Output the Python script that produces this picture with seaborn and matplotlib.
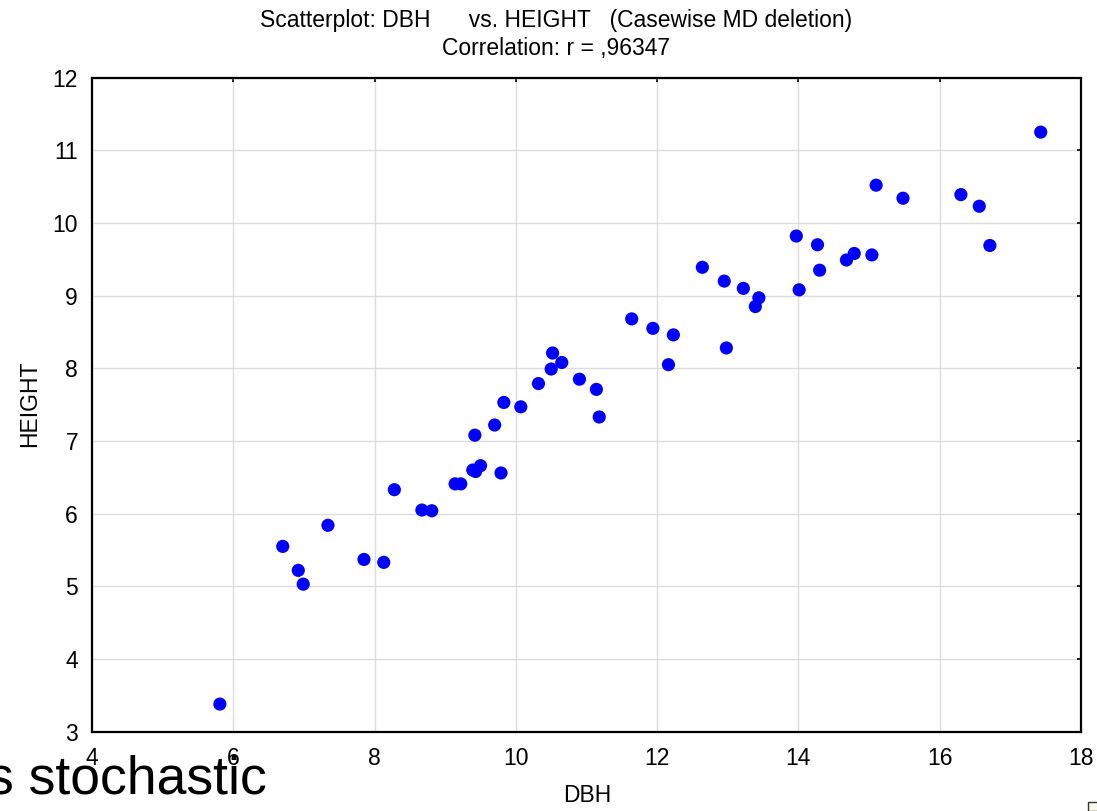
import matplotlib
matplotlib.use("Agg")
import matplotlib.pyplot as plt
import seaborn as sns
import pandas as pd
from matplotlib.patches import Rectangle

dbh = [5.81, 6.70, 6.92, 6.99, 7.34, 7.85, 8.13, 8.28, 8.67, 8.81,
       9.14, 9.22, 9.39, 9.43, 9.50, 9.79, 9.42, 9.70, 9.83, 10.07,
       10.32, 10.50, 10.52, 10.65, 10.90, 11.14, 11.18, 11.64, 11.94, 12.23,
       12.16, 12.64, 12.95, 13.22, 13.44, 13.39, 12.98, 14.01, 13.97, 14.27,
       14.30, 14.68, 14.79, 15.04, 15.10, 15.48, 16.30, 16.56, 16.71, 17.43]
height = [3.38, 5.55, 5.22, 5.03, 5.84, 5.37, 5.33, 6.33, 6.05, 6.04,
          6.41, 6.41, 6.60, 6.58, 6.66, 6.56, 7.08, 7.22, 7.53, 7.47,
          7.79, 7.99, 8.21, 8.08, 7.85, 7.71, 7.33, 8.68, 8.55, 8.46,
          8.05, 9.39, 9.20, 9.10, 8.97, 8.85, 8.28, 9.08, 9.82, 9.70,
          9.35, 9.49, 9.58, 9.56, 10.52, 10.34, 10.39, 10.23, 9.69, 11.25]
x_ticks = [4, 6, 8, 10, 12, 14, 16, 18]
y_ticks = [3, 4, 5, 6, 7, 8, 9, 10, 11, 12]

sns.set_theme(style="white")
plt.rcParams['font.family'] = ['Liberation Sans', 'DejaVu Sans']

df = pd.DataFrame({"DBH": dbh, "HEIGHT": height})

FS = 16.5
fig = plt.figure(figsize=(10.97, 8.11), dpi=100)
L, R, T, B = 92, 1081, 77.6, 731.7
ax = fig.add_axes([L/1097, 1 - B/811, (R-L)/1097, (B-T)/811])

ax.grid(True, color="#dcdcdc", linewidth=1.0, zorder=0)
ax.set_axisbelow(True)
sns.scatterplot(data=df, x="DBH", y="HEIGHT", ax=ax, color="#0000ff",
                s=90, edgecolor="none", linewidth=0, zorder=3)

ax.set_xlim(4, 18)
ax.set_ylim(3, 12)
ax.set_xticks(x_ticks)
ax.set_yticks(y_ticks)
ax.tick_params(axis="both", direction="in", length=3, width=1.2, color="black",
               labelsize=FS, top=True, right=True, labelcolor="black")
ax.tick_params(axis="x", pad=11)
ax.tick_params(axis="y", pad=10)
for sp in ax.spines.values():
    sp.set_visible(True)
    sp.set_color("black")
    sp.set_linewidth(1.6)

ax.set_xlabel("DBH", fontsize=FS, color="black")
ax.set_ylabel("HEIGHT", fontsize=FS, color="black")
ax.xaxis.set_label_coords((587-L)/(R-L), -(795-B)/(B-T))
ax.xaxis.label.set_va("center")
ax.yaxis.set_label_coords(-(L-30)/(R-L), 0.5 - (404-(T+B)/2)/(B-T))
ax.yaxis.label.set_va("center")

fig.text(556.5/1097, 1 - 21/811, "Scatterplot: DBH      vs. HEIGHT   (Casewise MD deletion)",
         ha="center", va="center", fontsize=FS, color="black")
fig.text(556.5/1097, 1 - 49/811, "Correlation: r = ,96347",
         ha="center", va="center", fontsize=FS, color="black")

fig.text(267/1097, 1 - 793/811, "s stochastic", ha="right", va="baseline",
         fontsize=38.5, color="black")

fig.patches.append(Rectangle((1088/1097, 0), 12/1097, 9/811, transform=fig.transFigure,
                             facecolor="#fbf8ee", edgecolor="#333333", linewidth=1.0))

fig.savefig("out.png", dpi=100)
